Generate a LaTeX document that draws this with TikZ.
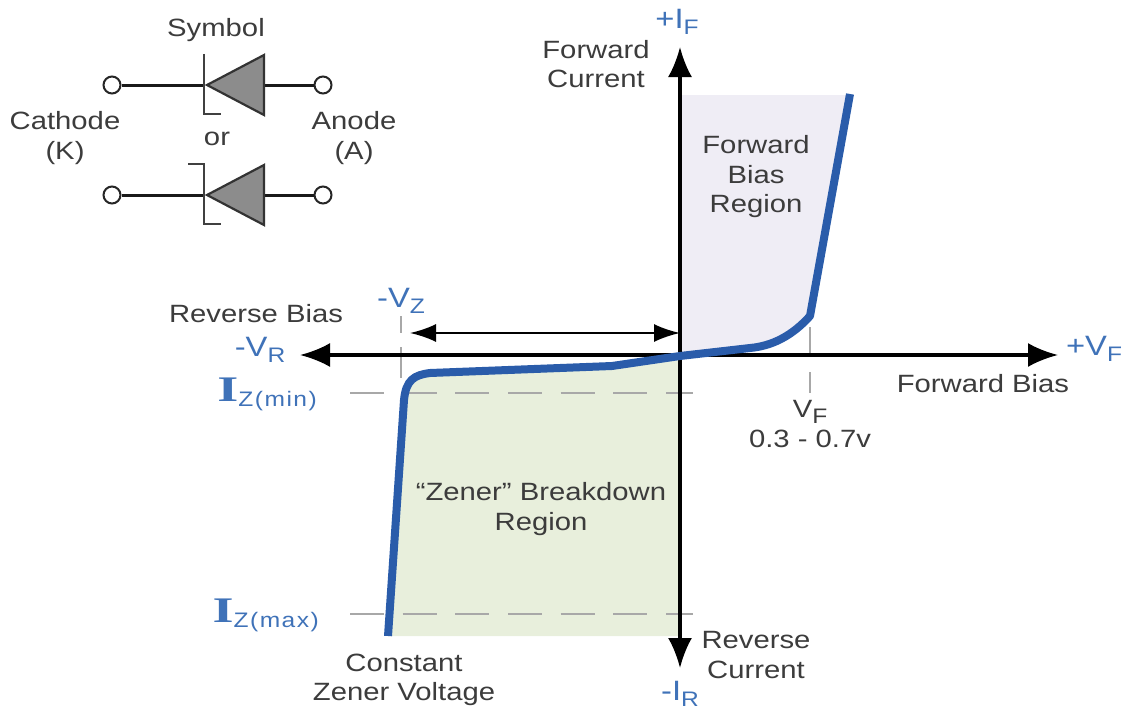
\documentclass[tikz,border=0pt]{standalone}
\usepackage{fontspec}
\setmainfont[FakeStretch=1.17]{Liberation Sans}
\newfontfamily\serifI[FakeStretch=1.5]{Liberation Serif}
\newfontfamily\spaced[FakeStretch=1.17,LetterSpace=7]{Liberation Sans}
\usetikzlibrary{arrows.meta}
\definecolor{txt}{HTML}{3C3C3C}
\definecolor{lab}{HTML}{3F72B8}
\definecolor{curve}{HTML}{2A5CAA}
\definecolor{grn}{HTML}{E8EFDC}
\definecolor{lav}{HTML}{EFEDF5}
\definecolor{tick}{HTML}{A8A8A8}
\tikzset{
 caption/.style={text=txt,font=\fontsize{25}{29.5}\selectfont,align=center,inner sep=0pt},
 blue label/.style={text=lab,font=\fontsize{28}{30}\selectfont,inner sep=0pt},
 wire/.style={draw=black!90,line width=3pt},
 bracket/.style={draw=black!75,line width=2.4pt},
 terminal/.style={circle,draw=black!85,fill=white,line width=2pt,minimum size=17pt,inner sep=0pt},
 diode/.style={draw=black!80,fill=black!45,line width=2.2pt,line join=miter},
 axis/.style={draw=black,line width=3.2pt,-{Latex[length=30pt,width=24pt]}},
 span/.style={draw=black,line width=2.2pt,{Latex[length=26pt,width=18pt]}-{Latex[length=26pt,width=18pt]}},
 guide/.style={draw=tick,line width=2pt},
 dashguide/.style={draw=tick,line width=2pt,dash pattern=on 34pt off 18.67pt},
 vi/.style={draw=curve,line width=8pt,line join=round,line cap=butt},
}
\newcommand{\subs}[1]{{\fontsize{21}{21}\selectfont\raisebox{-6pt}{#1}}}
\newcommand{\subz}[1]{{\spaced\fontsize{21}{21}\selectfont\raisebox{-5pt}{#1}}}
\begin{document}
\begin{tikzpicture}[x=1pt,y=-1pt]
\useasboundingbox (0,0) rectangle (1124,709);
% regions
\fill[grn] (404,395) .. controls (406,378) and (414,374) .. (430,373) -- (612,366) -- (680,356) -- (680,636) -- (388,636) -- cycle;
\fill[lav] (680,95) -- (850,95) -- (810,316) .. controls (790,340) and (770,346) .. (750,348) -- (680,356) -- cycle;
% coordinates
\coordinate (o) at (680,355);
\coordinate (xneg) at (300,355); \coordinate (xpos) at (1058,355);
\coordinate (ypos) at (680,47); \coordinate (yneg) at (680,668);
\coordinate (vzl) at (410,333); \coordinate (vzr) at (680,333);
\coordinate (tzA) at (401,316); \coordinate (tzB) at (401,333);
\coordinate (tzC) at (401,347); \coordinate (tzD) at (401,378);
\coordinate (tfA) at (810,327); \coordinate (tfB) at (810,355);
\coordinate (tfC) at (810,372); \coordinate (tfD) at (810,393);
\coordinate (minL) at (350,393); \coordinate (minR) at (693,393);
\coordinate (maxL) at (350,614); \coordinate (maxR) at (693,614);
% guides
\draw[guide] (tzA) -- (tzB); \draw[guide] (tzC) -- (tzD);
\draw[guide] (tfA) -- (tfB); \draw[guide] (tfC) -- (tfD);
\draw[dashguide] (minL) -- (minR);
\draw[dashguide] (maxL) -- (maxR);
% axes
\draw[axis] (o) -- (ypos);
\draw[axis] (o) -- (yneg);
\draw[axis] (o) -- (xneg);
\draw[axis] (o) -- (xpos);
\draw[span] (vzl) -- (vzr);
% characteristic
\draw[vi] (388,636) -- (404,400) .. controls (406,380) and (414,375) .. (430,373) -- (612,366) -- (680,356) -- (750,348) .. controls (772,346) and (792,336) .. (810,316) -- (850,94);
% upper symbol
\node[terminal] (k1) at (112,85) {};
\node[terminal] (a1) at (323,85) {};
\coordinate (c1) at (204,85); \coordinate (e1) at (264,85);
\draw[wire] (k1) -- (c1); \draw[wire] (e1) -- (a1);
\draw[bracket] (204,54) -- (204,114) -- (221,114);
\draw[diode] (207,85) -- (264,55) -- (264,115) -- cycle;
% lower symbol
\node[terminal] (k2) at (112,195) {};
\node[terminal] (a2) at (323,195) {};
\coordinate (c2) at (204,195); \coordinate (e2) at (264,195);
\draw[wire] (k2) -- (c2); \draw[wire] (e2) -- (a2);
\draw[bracket] (188,164) -- (204,164) -- (204,224) -- (221,224);
\draw[diode] (207,195) -- (264,165) -- (264,225) -- cycle;
% captions
\node[caption] (sym) at (216,30) {Symbol};
\node[caption] (cath) at (65,138) {Cathode\\(K)};
\node[caption] (anod) at (354,138) {Anode\\(A)};
\node[caption] (orw) at (217,139) {or};
\node[caption] (fc) at (596,64) {Forward\\Current};
\node[caption] (fbr) at (756,177) {Forward\\Bias\\Region};
\node[caption] (rb) at (256,314) {Reverse Bias};
\node[caption] (fb) at (983,384) {Forward Bias};
\node[caption] (zb) at (541,509) {“Zener” Breakdown\\Region};
\node[caption] (rc) at (756,655) {Reverse\\Current};
\node[caption] (czv) at (404,680) {Constant\\Zener Voltage};
\node[caption] (vf) at (810,424) {V\subs{F}\\[0pt]0.3 - 0.7v};
% blue labels
\node[blue label] (ipf) at (677,22) {+I\subs{F}};
\node[blue label] (ipr) at (680,694) {-I\subs{R}};
\node[blue label] (vpf) at (1094,349) {+V\subs{F}};
\node[blue label] (vnr) at (260,350) {-V\subs{R}};
\node[blue label] (vnz) at (401,301) {-V\subs{Z}};
\node[blue label,anchor=east] (imin) at (317,394) {{\serifI\bfseries\fontsize{36}{36}\selectfont I}\subz{Z(min)}};
\node[blue label,anchor=east] (imax) at (319,615) {{\serifI\bfseries\fontsize{36}{36}\selectfont I}\subz{Z(max)}};
\end{tikzpicture}
\end{document}
